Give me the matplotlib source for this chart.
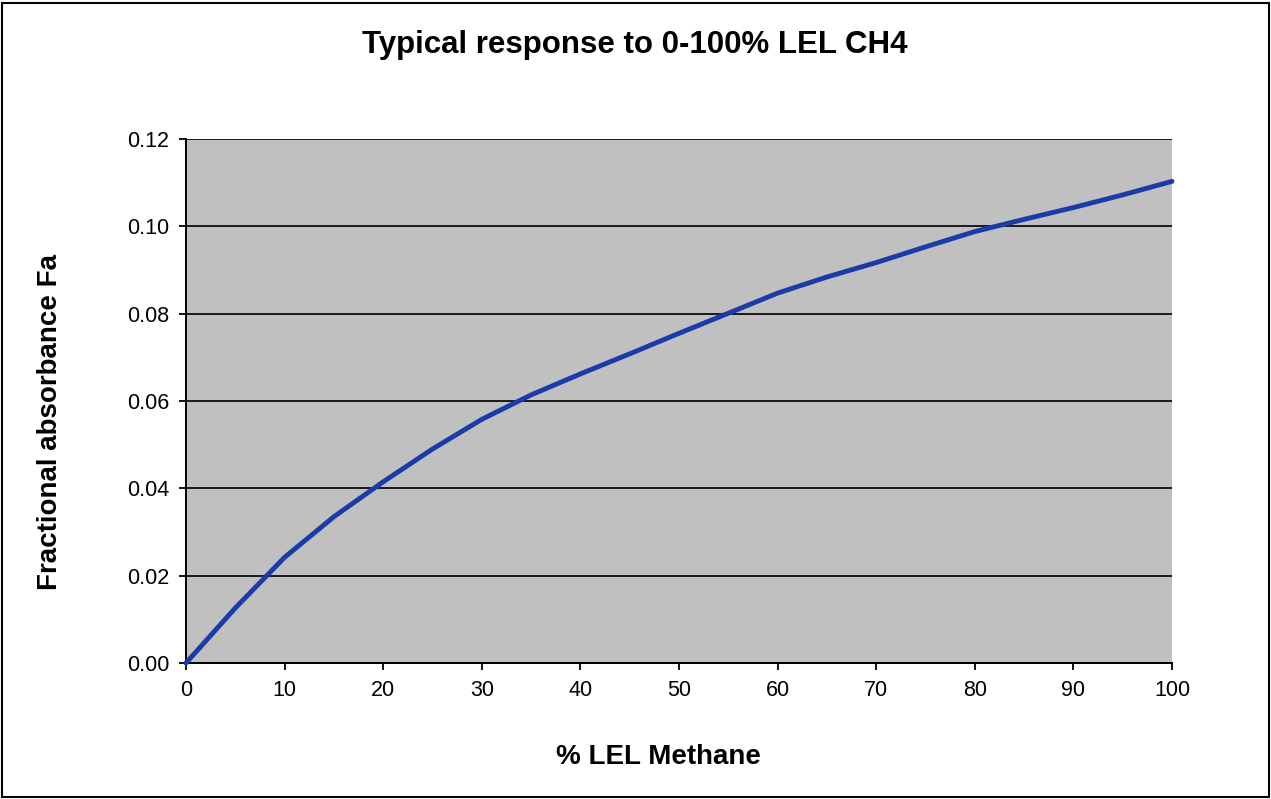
import matplotlib
matplotlib.use("Agg")
import matplotlib.pyplot as plt
from matplotlib.patches import Rectangle

plt.rcParams['font.family'] = ['Liberation Sans', 'DejaVu Sans']

lel_pct = [0, 5, 10, 15, 20, 25, 30, 35, 40, 45, 50, 55, 60, 65, 70, 75, 80, 85, 90, 95, 100]
absorbance = [0.0, 0.0126, 0.0242, 0.0335, 0.0415, 0.0490, 0.0558, 0.0614, 0.0662, 0.0708,
              0.0755, 0.0801, 0.0847, 0.0884, 0.0917, 0.0953, 0.0988, 0.1016, 0.1043, 0.1072, 0.1103]
x_ticks = [0, 10, 20, 30, 40, 50, 60, 70, 80, 90, 100]
y_ticks = [0.00, 0.02, 0.04, 0.06, 0.08, 0.10, 0.12]

W, H = 1271, 799
fig = plt.figure(figsize=(W / 100, H / 100), dpi=100)
ax = fig.add_axes([186 / W, 1 - 663 / H, (1172 - 186) / W, (663 - 139) / H])
ax.set_facecolor('#C0C0C0')

ax.plot(lel_pct, absorbance, color='#1A3CA8', lw=3.5, solid_capstyle='round',
        solid_joinstyle='round', zorder=3, clip_on=False)

ax.set_xlim(0, 100)
ax.set_ylim(0, 0.12)
ax.set_xticks(x_ticks)
ax.set_yticks(y_ticks)
ax.set_xticklabels([str(v) for v in x_ticks])
ax.set_yticklabels([f"{v:.2f}" for v in y_ticks])
ax.tick_params(axis='both', direction='out', length=5, width=1.3, color='black',
               labelsize=15.5, pad=7)
ax.yaxis.grid(True, color='#1a1a1a', lw=1.4)
ax.set_axisbelow(True)
for s in ['top', 'right']:
    ax.spines[s].set_visible(False)
for s in ['left', 'bottom']:
    ax.spines[s].set_linewidth(1.4)
    ax.spines[s].set_color('black')

fig.text(635 / W, 1 - 45 / H, 'Typical response to 0-100% LEL CH4', ha='center', va='center',
         fontsize=22.5, fontweight='bold')
fig.text(658 / W, 1 - 757 / H, '% LEL Methane', ha='center', va='center',
         fontsize=20, fontweight='bold')
fig.text(50 / W, 1 - 422 / H, 'Fractional absorbance Fa', ha='center', va='center',
         fontsize=20, fontweight='bold', rotation=90)

fig.patches.append(Rectangle((2 / W, 2 / H), (W - 4) / W, (H - 5) / H, transform=fig.transFigure,
                             fill=False, edgecolor='black', lw=1.5))

fig.savefig('out.png', dpi=100)
